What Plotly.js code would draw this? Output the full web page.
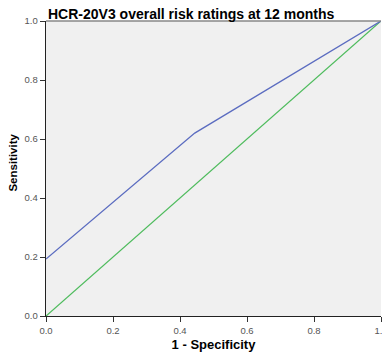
<!DOCTYPE html>
<html><head><meta charset="utf-8">
<script src="https://cdn.plot.ly/plotly-3.0.1.min.js"></script>
<style>html,body{margin:0;padding:0;background:#fff;}#chart{width:382px;height:352px;}</style>
</head><body><div id="chart"></div>
<script>
const rocX = [0, 0.444, 1];
const rocY = [0.193, 0.62, 1];
const refX = [0, 1];
const refY = [0, 1];
const tickVals = [0, 0.2, 0.4, 0.6, 0.8, 1.0];
const tickText = ['0.0', '0.2', '0.4', '0.6', '0.8', '1.0'];

const traces = [
  {x: refX, y: refY, mode: 'lines', line: {color: '#4dbb5c', width: 1.3}, hoverinfo: 'skip'},
  {x: rocX, y: rocY, mode: 'lines', line: {color: '#5b6cc0', width: 1.3}, hoverinfo: 'skip'}
];
const axisCommon = {
  range: [0, 1], tickvals: tickVals, ticktext: tickText,
  ticks: 'outside', ticklen: 5, tickcolor: '#333', tickwidth: 1,
  showline: true, linecolor: '#222', linewidth: 1.3,
  showgrid: false, zeroline: false,
  tickfont: {family: 'Arial, Liberation Sans, sans-serif', size: 9.5, color: '#555'}
};
const layout = {
  width: 382, height: 352,
  margin: {l: 46, r: 1, t: 21, b: 36},
  paper_bgcolor: '#fff', plot_bgcolor: '#f0f0f0',
  showlegend: false,
  title: {text: 'HCR-20V3 overall risk ratings at 12 months', x: 0, xref: 'paper', xanchor: 'left', y: 1, yref: 'paper', yanchor: 'bottom', pad: {b: 2, l: 2},
    font: {family: 'Arial, Liberation Sans, sans-serif', size: 14, color: '#000', weight: 'bold'}},
  xaxis: Object.assign({}, axisCommon, {
    title: {text: '1 - Specificity', standoff: 6, font: {family: 'Arial, Liberation Sans, sans-serif', size: 13, color: '#000', weight: 'bold'}},
    ticklabeloverflow: 'allow'
  }),
  yaxis: Object.assign({}, axisCommon, {
    title: {text: ''}
  }),
  annotations: [{text: 'Sensitivity', xref: 'paper', yref: 'y', x: 0, y: 0.52, xshift: -41, textangle: -90, showarrow: false,
    font: {family: 'Arial, Liberation Sans, sans-serif', size: 11.5, color: '#000', weight: 'bold'}}],
  shapes: [{type: 'line', xref: 'paper', yref: 'paper', x0: 0, x1: 1, y0: 1, y1: 1, line: {color: '#888', width: 1.3}}]
};
Plotly.newPlot('chart', traces, layout, {displayModeBar: false, staticPlot: true});
</script></body></html>
